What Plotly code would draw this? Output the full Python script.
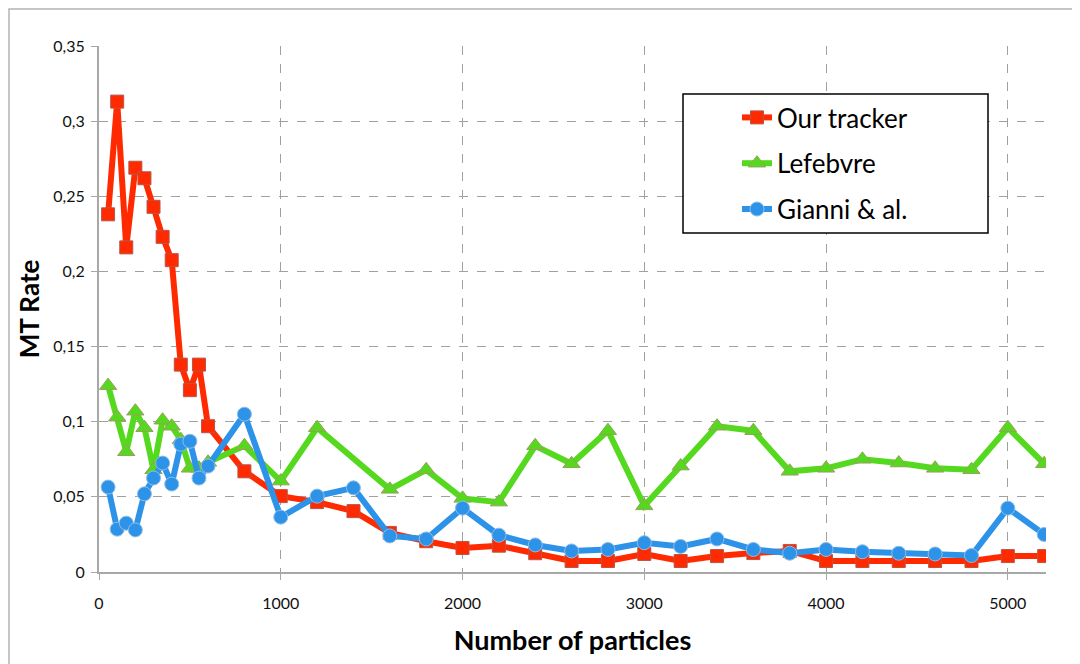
import plotly.graph_objects as go

particles = [50, 100, 150, 200, 250, 300, 350, 400, 450, 500, 550, 600,
             800, 1000, 1200, 1400, 1600, 1800, 2000, 2200, 2400, 2600, 2800,
             3000, 3200, 3400, 3600, 3800, 4000, 4200, 4400, 4600, 4800, 5000, 5200]

our_tracker = [0.238, 0.313, 0.216, 0.269, 0.262, 0.243, 0.223, 0.2075, 0.138, 0.121, 0.138, 0.097,
               0.067, 0.0505, 0.0465, 0.0405, 0.026, 0.0205, 0.016, 0.0175, 0.0125, 0.0073, 0.0073,
               0.012, 0.0073, 0.0106, 0.0126, 0.014, 0.0073, 0.0073, 0.0073, 0.0073, 0.0073, 0.0106, 0.0106]

lefebvre = [0.124, 0.103, 0.080, 0.107, 0.096, 0.068, 0.101, 0.097, 0.088, 0.069, 0.069, 0.073,
            0.084, 0.0605, 0.096, 0.0755, 0.055, 0.068, 0.049, 0.0465, 0.084, 0.072, 0.094,
            0.044, 0.0705, 0.097, 0.094, 0.067, 0.069, 0.075, 0.0725, 0.069, 0.068, 0.096, 0.072]

gianni = [0.0565, 0.0285, 0.0325, 0.028, 0.052, 0.0625, 0.0725, 0.0585, 0.085, 0.087, 0.0625, 0.0705,
          0.105, 0.0365, 0.0505, 0.056, 0.024, 0.022, 0.0425, 0.0245, 0.018, 0.014, 0.015,
          0.0195, 0.017, 0.022, 0.015, 0.0125, 0.015, 0.0135, 0.0125, 0.012, 0.011, 0.0425, 0.025]

# lefebvre has no point at 1400 in the picture: line goes straight 1200 -> 1600
lef_x = [x for x in particles if x != 1400]
lef_y = [y for x, y in zip(particles, lefebvre) if x != 1400]

font = "Lato, 'Open Sans', sans-serif"

# page puts the figure ~7px in from the top-left corner
off = 7
pl, pr, pt, pb = 98, 1045, 45, 571   # wanted plot area in screen pixels
pw, ph = pr - pl, pb - pt

fig = go.Figure()

fig.add_trace(go.Scatter(
    x=particles, y=our_tracker, name="Our tracker", legendgroup="a",
    mode="lines+markers",
    line=dict(color="#ff2a00", width=6),
    marker=dict(symbol="square", size=13, color="#ff2a00",
                line=dict(color="#b8564a", width=1))))

fig.add_trace(go.Scatter(
    x=lef_x, y=lef_y, name="Lefebvre", legendgroup="b",
    mode="lines+markers",
    line=dict(color="#55d91f", width=6),
    marker=dict(symbol="triangle-up", size=15, color="#55d91f",
                line=dict(color="#9a9f5c", width=1))))

fig.add_trace(go.Scatter(
    x=particles, y=gianni, name="Gianni & al.", legendgroup="c",
    mode="lines+markers",
    line=dict(color="#2d93e8", width=6),
    marker=dict(symbol="circle", size=14, color="#2d93e8",
                line=dict(color="#8fbde6", width=1))))

# legend frame and outer frame
fig.add_shape(type="rect", xref="paper", yref="paper",
              x0=(682 - pl) / pw, x1=(987 - pl) / pw,
              y0=(pb - 232) / ph, y1=(pb - 93) / ph,
              line=dict(color="black", width=1.5), fillcolor="white", layer="above")
fig.add_shape(type="rect", xref="paper", yref="paper",
              x0=(8 - pl) / pw, x1=1.06,
              y0=-0.2, y1=(pb - 8) / ph,
              line=dict(color="#b4b4b4", width=1.5), layer="below")

fig.update_layout(
    width=1080, height=664,
    margin=dict(l=pl - off, r=1080 + off - pr, t=pt - off, b=664 + off - pb, autoexpand=False),
    paper_bgcolor="white", plot_bgcolor="white",
    separators=", ",
    font=dict(family=font, color="#111111"),
    legend=dict(x=(736 - pl) / pw, y=(pb - 93) / ph, xanchor="left", yanchor="top",
                bgcolor="rgba(0,0,0,0)", borderwidth=0,
                font=dict(size=26, color="black", family=font),
                itemwidth=30, traceorder="grouped", tracegroupgap=9),
    xaxis=dict(range=[0, 5210], tick0=0, dtick=1000,
               showline=True, linecolor="#a8a8a8", linewidth=2,
               showgrid=True, gridcolor="#a0a0a0", griddash="dash", gridwidth=1.2,
               zeroline=False, ticks="outside", ticklen=6, tickcolor="#a8a8a8",
               ticklabelstandoff=10,
               tickfont=dict(size=16, color="#111111"),
               title=dict(text="<b>Number of particles</b>", font=dict(size=27, color="black"),
                          standoff=20)),
    yaxis=dict(range=[0, 0.35], tick0=0, dtick=0.05,
               showline=True, linecolor="#a8a8a8", linewidth=2,
               showgrid=True, gridcolor="#a0a0a0", griddash="dash", gridwidth=1.2,
               zeroline=False, ticks="outside", ticklen=6, tickcolor="#a8a8a8",
               ticklabelstandoff=3,
               tickfont=dict(size=16, color="#111111"),
               title=dict(text="<b>MT Rate</b>", font=dict(size=26, color="black"),
                          standoff=6)),
)

fig.write_html("out.html")
